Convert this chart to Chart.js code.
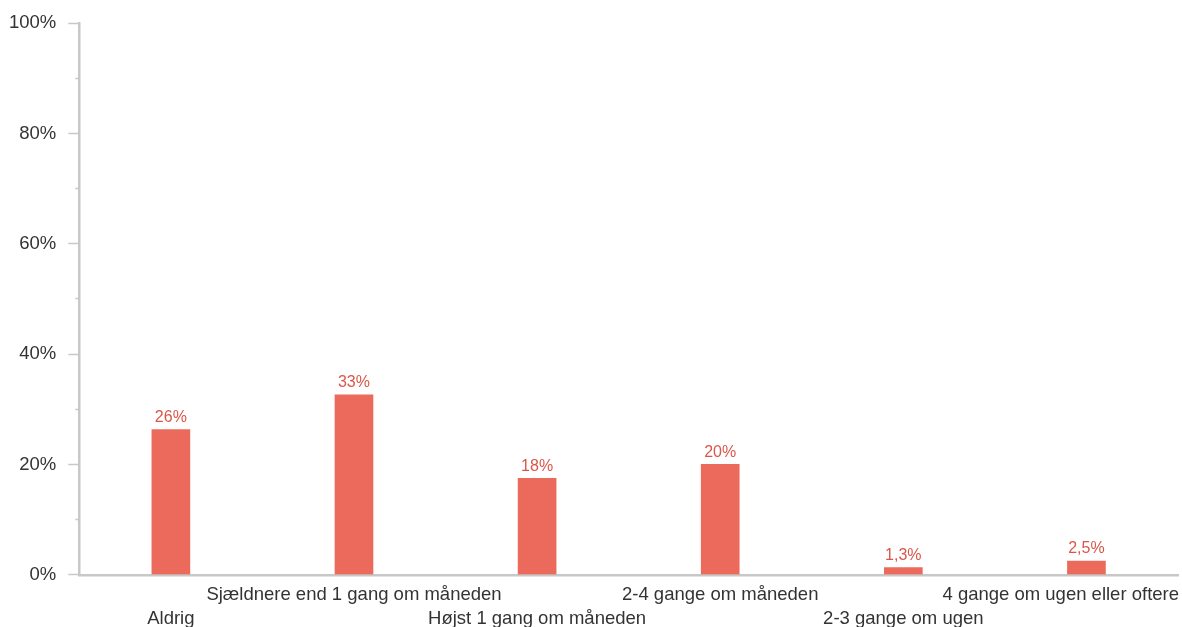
<!DOCTYPE html>
<html>
<head>
<meta charset="utf-8">
<script src="https://cdn.jsdelivr.net/npm/chart.js@4/dist/chart.umd.min.js"></script>
<style>
  html, body { margin: 0; padding: 0; background: #fff; }
  #wrap { width: 1182px; height: 627px; position: relative; }
</style>
</head>
<body>
<div id="wrap"><canvas id="chart"></canvas></div>
<script>
/* ---------- DATA ---------- */
const categories = [
  "Aldrig",
  "Sjældnere end 1 gang om måneden",
  "Højst 1 gang om måneden",
  "2-4 gange om måneden",
  "2-3 gange om ugen",
  "4 gange om ugen eller oftere"
];
const values = [26.3, 32.6, 17.5, 20.0, 1.3, 2.5];
const yMajorStep = 20;
const yMinorStep = 10;

const BAR = "#eb6a5b";
const LABEL = "#d9574a";
const AXIS = "#c8c8c8";
const TEXT = "#333333";
const FONT = "Liberation Sans, Arial, sans-serif";

function fmtPct(v) {
  if (v < 10) return v.toFixed(1).replace(".", ",") + "%";
  return Math.round(v) + "%";
}

// value labels above bars, positioned from the bar elements
const valueLabels = {
  id: "valueLabels",
  afterDatasetsDraw(chart) {
    const ctx = chart.ctx;
    const meta = chart.getDatasetMeta(0);
    ctx.save();
    ctx.font = "16px " + FONT;
    ctx.fillStyle = LABEL;
    ctx.textAlign = "center";
    ctx.textBaseline = "bottom";
    meta.data.forEach((bar, i) => {
      ctx.fillText(fmtPct(values[i]), bar.x, bar.y - 4);
    });
    ctx.restore();
  }
};

new Chart(document.getElementById("chart"), {
  type: "bar",
  data: {
    labels: categories,
    datasets: [{
      data: values,
      backgroundColor: BAR,
      barThickness: 38
    }]
  },
  options: {
    responsive: true,
    maintainAspectRatio: false,
    animation: false,
    layout: { padding: { left: -3, top: 5, right: 4, bottom: -12 } },
    plugins: {
      legend: { display: false },
      tooltip: { enabled: false }
    },
    scales: {
      x: {
        grid: { display: false, drawTicks: false },
        border: { color: AXIS, width: 2.5 },
        ticks: {
          autoSkip: false,
          maxRotation: 0,
          minRotation: 0,
          padding: 9,
          color: TEXT,
          font: { family: FONT, size: 18.5, lineHeight: 1.25 },
          callback(value, index) {
            let lbl = categories[index];
            // last label is pushed left so it stays inside the canvas
            if (index === categories.length - 1) lbl += " ".repeat(10);
            return index % 2 === 0 ? ["", lbl] : [lbl, ""];
          }
        },
        afterFit(scale) {
          scale.paddingRight = 0;
        }
      },
      y: {
        min: 0,
        max: 100,
        border: { color: AXIS, width: 2.5 },
        grid: {
          drawOnChartArea: false,
          drawTicks: true,
          tickLength: 11,
          tickColor: AXIS,
          tickWidth: 1.5,
          tickBorderDash: (c) => (c.tick && c.tick.value % yMajorStep !== 0) ? [0, 7, 4, 50] : []
        },
        ticks: {
          stepSize: yMinorStep,
          padding: 12,
          color: TEXT,
          font: { family: FONT, size: 18.5 },
          callback: (v) => v % yMajorStep === 0 ? v + "%" : ""
        }
      }
    }
  },
  plugins: [valueLabels]
});
</script>
</body>
</html>
